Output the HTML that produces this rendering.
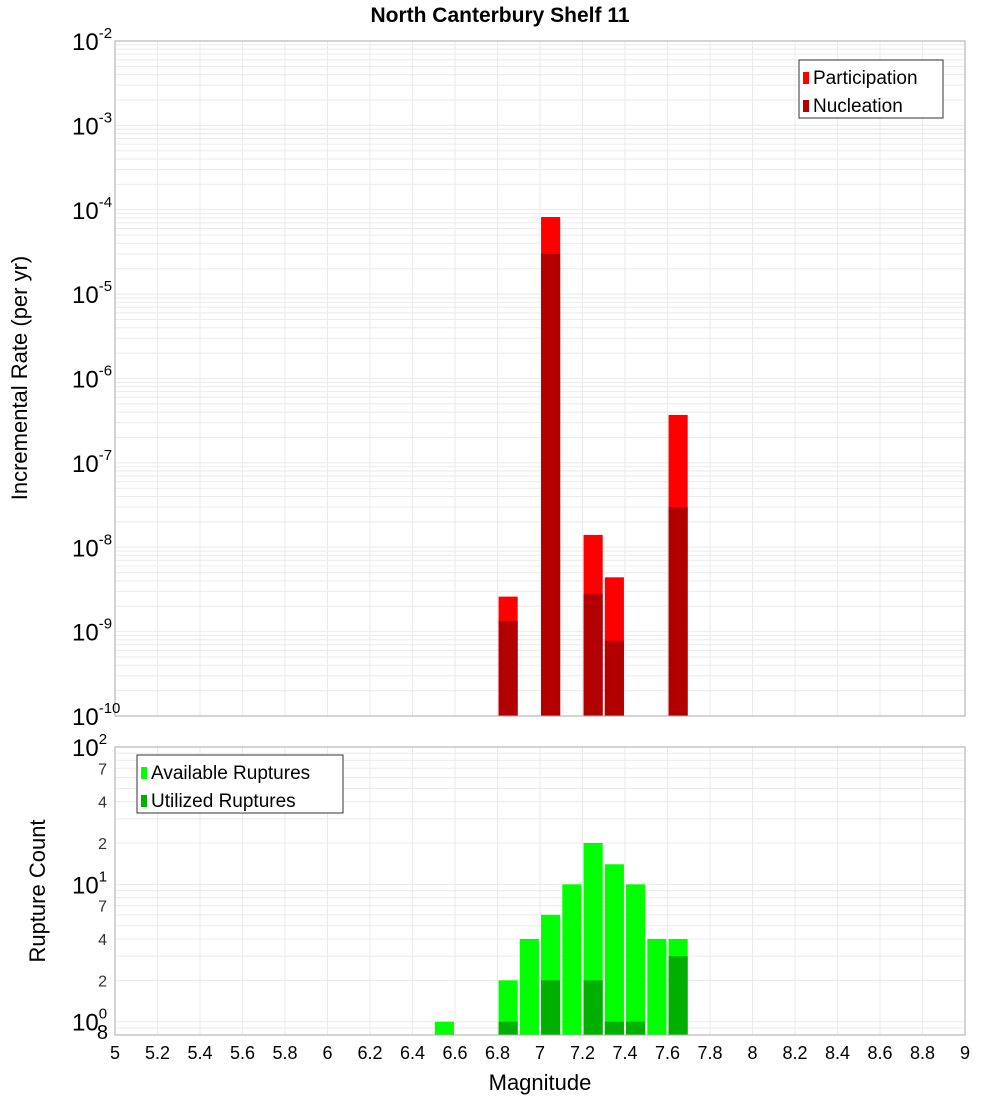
<!DOCTYPE html>
<html><head><meta charset="utf-8"><style>
body{margin:0;background:#fff;}
svg text{font-family:"Liberation Sans","DejaVu Sans",sans-serif;}
</style></head><body>
<svg id="c" width="1000" height="1100" xmlns="http://www.w3.org/2000/svg">
<text x="500" y="22" text-anchor="middle" font-size="21" font-weight="bold">North Canterbury Shelf 11</text>
<g id="topPanel"></g>
<g id="botPanel"></g>
<text transform="translate(27,378) rotate(-90)" text-anchor="middle" font-size="22">Incremental Rate (per yr)</text>
<text transform="translate(45,891) rotate(-90)" text-anchor="middle" font-size="22">Rupture Count</text>
<text x="540" y="1090" text-anchor="middle" font-size="22">Magnitude</text>
</svg>
<script>
const mags=[6.85,7.05,7.25,7.35,7.65];
const participation=[2.6e-9,8.2e-5,1.4e-8,4.4e-9,3.7e-7];
const nucleation=[1.34e-9,3.0e-5,2.8e-9,7.8e-10,3.0e-8];
const countMags=[6.55,6.85,6.95,7.05,7.15,7.25,7.35,7.45,7.55,7.65];
const available=[1,2,4,6,10,20,14,10,4,4];
const utilized=[0,1,0,2,0,2,1,1,0,3];
const xTicks=[5,5.2,5.4,5.6,5.8,6,6.2,6.4,6.6,6.8,7,7.2,7.4,7.6,7.8,8,8.2,8.4,8.6,8.8,9];
const topExps=[-2,-3,-4,-5,-6,-7,-8,-9,-10];

const NS="http://www.w3.org/2000/svg";
const L=115,R=965;
const X=m=>L+(m-5)/4*(R-L);
const T0=41,T1=716;
const YT=v=>T0+(-2-Math.log10(v))/8*(T1-T0);
const B0=747,B1=1035;
const YB=v=>B0+(2-Math.log10(v))/(2-Math.log10(0.8))*(B1-B0);
function mk(p,tag,a){const e=document.createElementNS(NS,tag);for(const k in a)e.setAttribute(k,a[k]);p.appendChild(e);return e;}
const gTop=document.getElementById('topPanel'),gBot=document.getElementById('botPanel');

function grid(g,y0,y1,yf,lo,hi){
  for(let e=lo;e<hi;e++)for(let m=1;m<10;m++){const v=m*Math.pow(10,e);const y=yf(v);if(y<y0-0.5||y>y1+0.5)continue;
    const l=mk(g,'line',{x1:L,x2:R,y1:y,y2:y,stroke:'#ebebeb','stroke-width':1});
    
    }
  xTicks.forEach(t=>{const l=mk(g,'line',{x1:X(t),x2:X(t),y1:y0,y2:y1,stroke:'#ebebeb','stroke-width':1});
    
    });
}
grid(gTop,T0,T1,YT,-10,-2);
grid(gBot,B0,B1,YB,-1,2);

const bw=0.09;
function bar(g,m,v,base,yf,col,name){const x=X(m-bw/2),w=X(m+bw/2)-x,y=yf(v);
  const r=mk(g,'rect',{x:x,y:y,width:w,height:base-y,fill:col});
  
  }
mags.forEach((m,i)=>{bar(gTop,m,participation[i],T1,YT,'#ff0000','participation-bar');});
mags.forEach((m,i)=>{bar(gTop,m,nucleation[i],T1,YT,'#b20000','nucleation-bar');});
countMags.forEach((m,i)=>{if(available[i]>0)bar(gBot,m,available[i],B1,YB,'#00ff00','available-bar');});
countMags.forEach((m,i)=>{if(utilized[i]>0)bar(gBot,m,utilized[i],B1,YB,'#00b000','utilized-bar');});

mk(gTop,'rect',{x:L,y:T0,width:R-L,height:T1-T0,fill:'none',stroke:'#aaa'});
mk(gBot,'rect',{x:L,y:B0,width:R-L,height:B1-B0,fill:'none',stroke:'#aaa'});

topExps.forEach(e=>{const y=YT(Math.pow(10,e));const t=mk(gTop,'text',{x:72,y:y+9,'font-size':24});
  
  
  t.textContent='10';const s=mk(t,'tspan',{dy:-12,'font-size':15});s.textContent=String(e);});
[[100,'2'],[10,'1'],[1,'0']].forEach(([v,e])=>{const y=YB(v);const t=mk(gBot,'text',{x:72,y:y+9,'font-size':24});
  
  
  t.textContent='10';const s=mk(t,'tspan',{dy:-12,'font-size':15});s.textContent=e;});
[[70,'7'],[40,'4'],[20,'2'],[7,'7'],[4,'4'],[2,'2'],[0.8,'8']].forEach(([v,s])=>{const y=YB(v);
  const t=mk(gBot,'text',{x:107,y:y+6,'font-size':v<1?20:16,'text-anchor':'end',fill:'#333'});
  if(v<1){t.setAttribute('x',108);t.setAttribute('y',y+4);t.setAttribute('fill','#000');}
  
  
  t.textContent=s;});
xTicks.forEach(m=>{const t=mk(gBot,'text',{x:X(m),y:1059,'font-size':18,'text-anchor':'middle'});
  
  
  t.textContent=String(m);});

function legend(g,x,y,w,items,name){const lg=mk(g,'g',{});
  
  
  mk(lg,'rect',{x:x,y:y,width:w,height:58,fill:'#fff',stroke:'#333'});
  items.forEach(([c,l],i)=>{mk(lg,'rect',{x:x+4,y:y+12+i*28,width:6,height:12,fill:c});
    const t=mk(lg,'text',{x:x+14,y:y+24+i*28,'font-size':19});t.textContent=l;});}
legend(gTop,799,60,144,[['#ff0000','Participation'],['#b20000','Nucleation']],'rate-legend');
legend(gBot,137,755,206,[['#00ff00','Available Ruptures'],['#00b000','Utilized Ruptures']],'count-legend');
</script>
</body></html>
